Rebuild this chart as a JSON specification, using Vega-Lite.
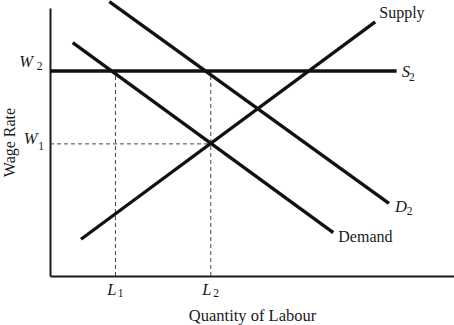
{
  "$schema": "https://vega.github.io/schema/vega-lite/v6.json",
  "width": 404,
  "height": 268,
  "autosize": "none",
  "padding": {"left": 50, "top": 8, "right": 0, "bottom": 49},
  "background": "white",
  "config": {"view": {"stroke": null}},
  "datasets": {
    "curves": [
      {"curve": "Supply", "pt": 1, "x": 7.67, "y": 13.7},
      {"curve": "Supply", "pt": 2, "x": 80.5, "y": 94.8},
      {"curve": "Demand", "pt": 1, "x": 5.62, "y": 87.05},
      {"curve": "Demand", "pt": 2, "x": 70.12, "y": 16.16},
      {"curve": "D2", "pt": 1, "x": 14.68, "y": 102.35},
      {"curve": "D2", "pt": 2, "x": 83.9, "y": 27.13},
      {"curve": "S2", "pt": 1, "x": 0, "y": 76.5},
      {"curve": "S2", "pt": 2, "x": 85.8, "y": 76.5}
    ],
    "guides": [
      {"guide": "W1", "pt": 1, "x": 0, "y": 49.3},
      {"guide": "W1", "pt": 2, "x": 39.8, "y": 49.3},
      {"guide": "L1", "pt": 1, "x": 16.2, "y": 0},
      {"guide": "L1", "pt": 2, "x": 16.2, "y": 76.5},
      {"guide": "L2", "pt": 1, "x": 39.8, "y": 0},
      {"guide": "L2", "pt": 2, "x": 39.8, "y": 76.5}
    ],
    "letters": [
      {"label": "W", "x": -7.6, "y": 78.1},
      {"label": "W", "x": -6.5, "y": 49.14},
      {"label": "L", "x": 14.2, "y": -7.09},
      {"label": "L", "x": 37.7, "y": -7.09},
      {"label": "S", "x": 87.05, "y": 74.25},
      {"label": "D", "x": 85.4, "y": 23.77}
    ],
    "subs": [
      {"label": "2", "x": -3.29, "y": 76.87},
      {"label": "1", "x": -2.9, "y": 47.0},
      {"label": "1", "x": 16.76, "y": -7.95},
      {"label": "2", "x": 40.42, "y": -7.95},
      {"label": "2", "x": 88.86, "y": 72.76},
      {"label": "2", "x": 88.3, "y": 22.76}
    ],
    "words": [
      {"label": "Supply", "x": 81.5, "y": 96.27},
      {"label": "Demand", "x": 71.36, "y": 12.8}
    ]
  },
  "encoding": {
    "x": {
      "field": "x", "type": "quantitative",
      "scale": {"domain": [0, 100], "nice": false, "zero": false},
      "axis": {
        "title": "Quantity of Labour", "titleFont": "Liberation Serif", "titleFontSize": 16.5,
        "titleFontWeight": "normal", "titleColor": "#1a1a1a", "titlePadding": 31,
        "domainColor": "#1a1a1a", "domainWidth": 2, "ticks": false, "labels": false, "grid": false
      }
    },
    "y": {
      "field": "y", "type": "quantitative",
      "scale": {"domain": [0, 100], "nice": false, "zero": false},
      "axis": {
        "title": "Wage Rate", "titleFont": "Liberation Serif", "titleFontSize": 16,
        "titleFontWeight": "normal", "titleColor": "#1a1a1a", "titlePadding": 33,
        "domainColor": "#1a1a1a", "domainWidth": 2, "ticks": false, "labels": false, "grid": false
      }
    }
  },
  "layer": [
    {
      "data": {"name": "guides"},
      "mark": {"type": "line", "strokeWidth": 1, "color": "#444444", "strokeDash": [4, 3]},
      "encoding": {"detail": {"field": "guide"}, "order": {"field": "pt"}}
    },
    {
      "data": {"name": "curves"},
      "mark": {"type": "line", "strokeWidth": 3.3, "color": "#111111", "strokeCap": "butt"},
      "encoding": {"detail": {"field": "curve"}, "order": {"field": "pt"}}
    },
    {
      "data": {"name": "letters"},
      "mark": {"type": "text", "font": "Liberation Serif", "fontSize": 16.5, "fontStyle": "italic", "align": "left", "baseline": "alphabetic", "color": "#1a1a1a"},
      "encoding": {"text": {"field": "label"}}
    },
    {
      "data": {"name": "subs"},
      "mark": {"type": "text", "font": "Liberation Serif", "fontSize": 11.5, "align": "left", "baseline": "alphabetic", "color": "#1a1a1a"},
      "encoding": {"text": {"field": "label"}}
    },
    {
      "data": {"name": "words"},
      "mark": {"type": "text", "font": "Liberation Serif", "fontSize": 16, "align": "left", "baseline": "alphabetic", "color": "#1a1a1a"},
      "encoding": {"text": {"field": "label"}}
    }
  ]
}
